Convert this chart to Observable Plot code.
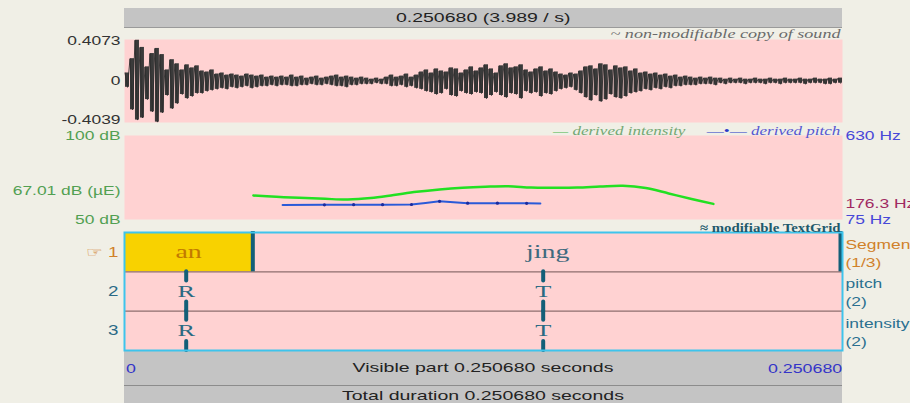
<!DOCTYPE html>
<html><head><meta charset="utf-8">
<script src="https://cdn.jsdelivr.net/npm/d3@7"></script>
<script src="https://cdn.jsdelivr.net/npm/@observablehq/plot@0.6"></script>
<style>
body{margin:0;background:#f0efe6;}
#root{position:relative;width:910px;height:403px;overflow:hidden;font-family:"Liberation Sans",Arial,sans-serif;background:#f0efe6;}
.bar{position:absolute;left:124px;width:718px;background:#c4c4c4;color:#222;font-size:13px;text-align:center;}
.plot{position:absolute;left:0;}
.sx{display:inline-block;white-space:nowrap;}
</style></head>
<body><div id="root"></div>
<script>
// ---------- data ----------
const duration = 0.250680;
const selectionText = "0.250680 (3.989 / s)";
const visibleText = "Visible part 0.250680 seconds";
const totalText = "Total duration 0.250680 seconds";
const timeTickValues = [0, 0.250680];
const timeTickLabels = ["0", "0.250680"];

// waveform envelope, in hundredths of amplitude units, one column per step
const waveUp = [8,22,40,33,14,27,32,26,11,21, 17,11,16,13,15,10,9,11,7,8, 6,7,6,5,7,6,5,6,4,5, 4,5,4,6,4,5,3,4,5,3,
  4,5,6,4,5,4,3,4,3,2, 3,2,4,6,4,5,7,4,6,9, 11,8,12,10,9,13,12,8,11,14, 10,13,16,12,8,15,17,13,14,16,
  11,9,12,14,10,12,9,7,6,8, 7,10,14,15,12,17,16,11,15,13, 14,10,12,8,9,7,8,6,7,5, 6,4,5,4,3,4,3,4,3,3,
  2,3,2,3,2,2,3,2,2,3, 2,2,3,2,2,3,2,2,3,2, 2,3,2,3];
const waveDn = [6,28,38,36,18,30,40,31,14,27, 22,13,17,15,12,12,10,9,8,7, 8,6,7,6,5,7,6,5,5,4, 5,4,4,5,5,4,4,3,4,4,
  3,4,5,5,6,4,4,3,3,3, 2,3,3,5,5,4,6,5,7,8, 10,11,13,12,8,14,15,10,12,13, 11,12,17,14,11,14,16,12,13,17,
  10,12,11,15,12,13,10,8,7,6, 9,12,16,19,14,20,18,13,16,17, 15,12,11,10,8,9,7,8,6,7, 5,5,4,4,4,3,3,3,4,2,
  3,2,2,2,3,2,2,2,3,2, 2,3,2,2,2,2,3,2,2,2, 3,3,2,2];
const waveMin = -0.4039, waveMax = 0.4073;
const waveTicks = [0.4073, 0, -0.4039];
const waveTickLabels = ["0.4073", "0", "-0.4039"];
const soundTitle = "~ non-modifiable copy of sound";

// intensity (dB)
const intTimes = [0.045,0.053,0.061,0.070,0.078,0.086,0.094,0.102,0.110,0.118,0.126,0.134,0.142,0.150,0.158,0.166,0.174,0.182,0.190,0.198,0.2056];
const intDb    = [64.3,63.5,62.9,62.3,61.9,62.8,64.6,66.5,67.9,68.9,69.5,69.8,69.0,68.9,69.0,69.6,70.1,68.75,65.5,62.2,59.3];
const intTicks = [100, 67.01, 50];
const intTickLabels = ["100 dB", "67.01 dB (\u00b5E)", "50 dB"];

// pitch (Hz)
const pitchTimes = [0.0552,0.0698,0.0800,0.0901,0.1002,0.1051,0.1100,0.1149,0.1198,0.1302,0.1404,0.1452];
const pitchHz    = [170.8,172.0,172.8,172.8,174.0,184.0,195.0,188.6,182.7,182.7,182.0,180.7];
const pitchSpeckleTimes = [0.0698,0.0800,0.0901,0.1002,0.1100,0.1198,0.1302,0.1404];
const pitchSpeckleHz    = [172.0,172.8,172.8,174.0,195.0,182.7,182.7,182.0];
const pitchTicks = [630, 176.3, 75];
const pitchTickLabels = ["630 Hz", "176.3 Hz", "75 Hz"];
const pitchTickColors = ["#4848d8", "#a02a62", "#4848d8"];

// TextGrid
const gridTitle = "\u2248 modifiable TextGrid";
const tierNames = ["Segment\n(1/3)", "pitch\n(2)", "intensity\n(2)"];
const tierNumbers = ["\u261e 1", "2", "3"];
const intervalStarts = [0, 0.0448];
const intervalEnds = [0.0448, 0.250680];
const intervalLabels = ["an", "jing"];
const selectedInterval = 0;
const pointTimes = [0.02154, 0.14618];
const pointLabels = ["R", "T"];
const pointTiers = [2, 3];

// ---------- styling constants ----------
const PINK = "#ffd2d2";
const SANS = "Liberation Sans, Arial, sans-serif";
const SERIF = "Liberation Serif, Times New Roman, serif";
const W = 910, ML = 124, MR = 68;
const root = document.getElementById("root");
const baseStyle = {background: "transparent", fontFamily: SANS, fontSize: "13px", overflow: "visible"};

// the reference screenshot is stretched horizontally: widen glyphs in place
function stretch(svg) {
  svg.querySelectorAll("text").forEach(t => {
    const g = t.closest("g[font-family]") || t.closest("g");
    const fam = (g && g.getAttribute("font-family")) || "";
    const bold = (g && g.getAttribute("font-weight")) === "bold";
    const ital = (g && g.getAttribute("font-style")) === "italic";
    const f = bold ? 1.14 : ital ? 1.45 : fam.includes("Serif") ? 1.55 : 1.34;
    const tr = t.getAttribute("transform");
    if (tr) t.setAttribute("transform", tr + ` scale(${f},1)`);
    else {
      const x = +(t.getAttribute("x") || 0);
      t.setAttribute("transform", `translate(${x},0) scale(${f},1) translate(${-x},0)`);
    }
  });
  return svg;
}
function place(el, top) { stretch(el); el.classList.add("plot"); el.style.top = top + "px"; root.append(el); }
function div(cls, css, html) { const d = document.createElement("div"); if (cls) d.className = cls; Object.assign(d.style, css); d.innerHTML = html; root.append(d); return d; }
function sx(text, f, origin) { return `<span class="sx" style="transform:scaleX(${f});transform-origin:${origin}">${text}</span>`; }

// top selection bar
div("bar", {top: "8px", height: "19px", lineHeight: "19px", borderBottom: "1px solid #9a9a9a"}, sx(selectionText, 1.5, "center"));

// ---------- waveform ----------
const step = duration / waveUp.length;
const cols = waveUp.map((u, i) => ({t: (i + 0.5) * step, hi: u / 100, lo: -waveDn[i] / 100}));
const zig = waveUp.flatMap((u, i) => [{t: (i + 0.1) * step, a: u / 100}, {t: (i + 0.6) * step, a: -waveDn[i] / 100}]);
place(Plot.plot({
  width: W, height: 104, marginLeft: ML, marginRight: MR, marginTop: 11, marginBottom: 10,
  x: {domain: [0, duration], axis: null},
  y: {domain: [waveMin, waveMax], axis: null},
  style: baseStyle,
  marks: [
    Plot.frame({fill: PINK, stroke: "none"}),
    Plot.ruleX(cols, {x: "t", y1: "lo", y2: "hi", stroke: "#3a3a3a", strokeWidth: 4}),
    Plot.line(zig, {x: "t", y: "a", stroke: "#2e2e2e", strokeWidth: 0.9}),
    Plot.text(waveTicks, {y: d => d, text: (d, i) => waveTickLabels[i], frameAnchor: "left", textAnchor: "end", dx: -4, fill: "#333", fontSize: 13}),
    Plot.text([soundTitle], {text: d => d, frameAnchor: "top-right", lineAnchor: "bottom", dy: -2, dx: -2, fontFamily: SERIF, fontStyle: "italic", fill: "#6a6a6a", fontSize: 12.5})
  ]
}), 28);
// nudge extreme amplitude labels inward like the reference
(() => {
  const svgs = root.querySelectorAll("svg");
  const texts = [...svgs[0].querySelectorAll("text")].filter(t => waveTickLabels.includes(t.textContent));
  texts.forEach(t => {
    const s = t.textContent === waveTickLabels[0] ? 1 : t.textContent === waveTickLabels[2] ? -3 : 0;
    t.setAttribute("transform", t.getAttribute("transform").replace(/translate\(([^,]+),([^)]+)\)/, (m, a, b) => `translate(${a},${+b + s})`));
  });
})();

// ---------- intensity ----------
const intData = intTimes.map((t, i) => ({t, db: intDb[i]}));
place(Plot.plot({
  width: W, height: 104, marginLeft: ML, marginRight: MR, marginTop: 13, marginBottom: 7,
  x: {domain: [0, duration], axis: null},
  y: {domain: [50, 100], axis: null},
  style: baseStyle,
  marks: [
    Plot.frame({fill: PINK, stroke: "none"}),
    Plot.line(intData, {x: "t", y: "db", stroke: "#22e022", strokeWidth: 2.5, curve: "catmull-rom"}),
    Plot.text(intTicks, {y: d => d, text: (d, i) => intTickLabels[i], frameAnchor: "left", textAnchor: "end", dx: -4, fill: "#52a052", fontSize: 13})
  ]
}), 122);

// ---------- pitch (overlay, own scale) ----------
const pitchData = pitchTimes.map((t, i) => ({t, hz: pitchHz[i]}));
const speckles = pitchSpeckleTimes.map((t, i) => ({t, hz: pitchSpeckleHz[i]}));
place(Plot.plot({
  width: W, height: 104, marginLeft: ML, marginRight: MR, marginTop: 13, marginBottom: 7,
  x: {domain: [0, duration], axis: null},
  y: {domain: [75, 630], axis: null},
  style: baseStyle,
  marks: [
    Plot.line(pitchData, {x: "t", y: "hz", stroke: "#2a5ad8", strokeWidth: 2}),
    Plot.dot(speckles, {x: "t", y: "hz", r: 1.6, fill: "#1c2a9c", stroke: "none"}),
    Plot.text(pitchTicks, {y: d => d, text: (d, i) => pitchTickLabels[i], fill: (d, i) => pitchTickColors[i], frameAnchor: "right", textAnchor: "start", dx: 3, fontSize: 13})
  ]
}), 122);

// legend for the analysis panel
div(null, {position: "absolute", right: "70px", top: "123px", fontFamily: SERIF, fontStyle: "italic", fontSize: "13px", whiteSpace: "nowrap"},
  sx('<span style="color:#4cb84c">\u2014</span> <span style="color:#74a874">derived intensity</span>&nbsp;&nbsp;&nbsp;&nbsp; ' +
  '<span style="color:#2a3ac8;font-style:normal">\u2014\u2022\u2014</span> <span style="color:#5656d2">derived pitch</span>', 1.31, "right"));

// ---------- bottom bars ----------
div("bar", {top: "351px", height: "34px", lineHeight: "34px", borderBottom: "1px solid #8c8c8c"}, sx(visibleText, 1.5, "center"));
div("bar", {top: "386px", height: "20px", lineHeight: "20px"}, sx(totalText, 1.5, "center"));
div(null, {position: "absolute", left: "126px", top: "361px", fontSize: "13px", color: "#3434c8"}, sx(timeTickLabels[0], 1.37, "left"));
div(null, {position: "absolute", right: "68px", top: "361px", fontSize: "13px", color: "#3434c8"}, sx(timeTickLabels[1], 1.37, "right"));

// ---------- TextGrid ----------
const intervals = intervalLabels.map((label, i) => ({x1: intervalStarts[i], x2: intervalEnds[i], label, sel: i === selectedInterval}));
const innerBoundaries = intervalEnds.slice(0, -1).map(t => ({t}));
const endBoundary = intervalEnds.slice(-1).map(t => ({t}));
const points = pointTiers.flatMap(tier => pointTimes.map((t, i) => ({t, tier, label: pointLabels[i]})));
const tiers = tierNames.map((name, i) => ({i, name, num: tierNumbers[i]}));
place(Plot.plot({
  width: W, height: 140, marginLeft: ML, marginRight: MR, marginTop: 12, marginBottom: 10,
  x: {domain: [0, duration], axis: null},
  y: {domain: [3, 0], axis: null},
  style: baseStyle,
  marks: [
    Plot.frame({fill: PINK, stroke: "none"}),
    Plot.rect(intervals, {x1: "x1", x2: "x2", y1: 0, y2: 1, fill: d => d.sel ? "#f8d200" : PINK}),
    Plot.ruleY([1, 2], {stroke: "#8e6e6e", strokeWidth: 1.3}),
    Plot.ruleX(innerBoundaries, {x: "t", y1: 0, y2: 1, stroke: "#135f78", strokeWidth: 4, insetTop: -1}),
    Plot.ruleX(endBoundary, {x: "t", y1: 0, y2: 1, stroke: "#135f78", strokeWidth: 4, dx: -2, insetTop: -1}),
    Plot.text(intervals, {x: d => (d.x1 + d.x2) / 2, y: 0.5, text: "label", fontFamily: SERIF, fontSize: 18, fill: d => d.sel ? "#c27a00" : "#3e6a7e"}),
    Plot.ruleX(points, {x: "t", y1: d => d.tier - 1, y2: d => d.tier - 0.77, stroke: "#135f78", strokeWidth: 4, strokeLinecap: "round"}),
    Plot.ruleX(points, {x: "t", y1: d => d.tier - 0.23, y2: d => d.tier, stroke: "#135f78", strokeWidth: 4, strokeLinecap: "round"}),
    Plot.text(points, {x: "t", y: d => d.tier - 0.5, text: "label", fontFamily: SERIF, fontSize: 17, fill: "#2a6a82"}),
    Plot.frame({stroke: "#3ec4ec", strokeWidth: 2}),
    Plot.text(tiers, {y: d => d.i + 0.5, text: "num", frameAnchor: "left", textAnchor: "end", dx: -6, fontSize: 14, fill: d => d.i === 0 ? "#d0812a" : "#2a6a86"}),
    Plot.text(tiers, {y: d => d.i + 0.5, text: "name", frameAnchor: "right", textAnchor: "start", dx: 3, fontSize: 13, lineHeight: 1.38, fill: d => d.i === 0 ? "#d0812a" : "#2a7090"}),
    Plot.text([gridTitle], {text: d => d, frameAnchor: "top-right", lineAnchor: "bottom", dy: -1, dx: -2, fontFamily: SERIF, fontWeight: "bold", fontSize: 13, fill: "#1e5a6c"})
  ]
}), 220);
</script></body></html>
